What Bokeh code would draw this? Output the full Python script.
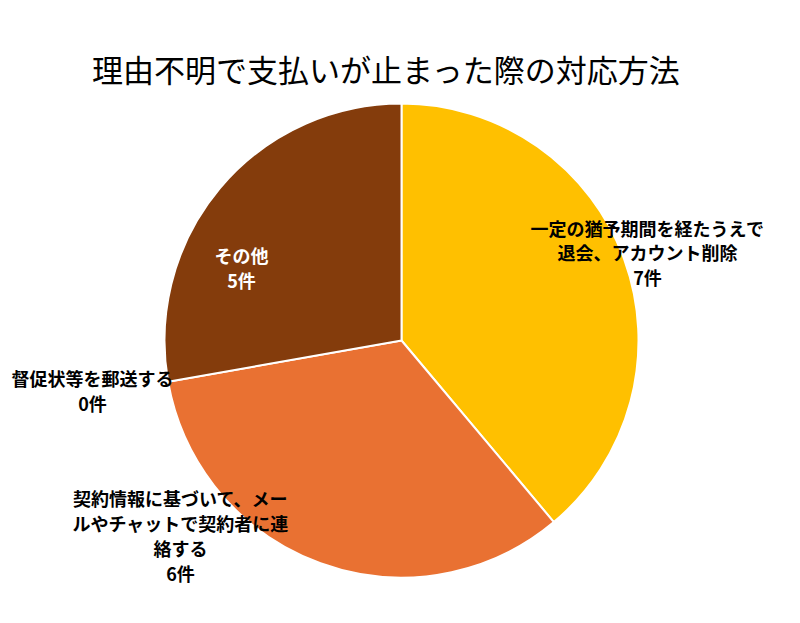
import math
from bokeh.plotting import figure
from bokeh.models import ColumnDataSource, Range1d
from bokeh.core.properties import value
from bokeh.embed import file_html
from bokeh.resources import INLINE

# Responses per handling method (clockwise from 12 o'clock)
categories = [
    "一定の猶予期間を経たうえで\n退会、アカウント削除",
    "契約情報に基づいて、メー\nルやチャットで契約者に連\n絡する",
    "督促状等を郵送する",
    "その他",
]
counts = [7, 6, 0, 5]
colors = ["#FFC000", "#E97132", "#A5A5A5", "#843C0C"]
label_colors = ["#000000", "#000000", "#000000", "#FFFFFF"]

title_text = "理由不明で支払いが止まった際の対応方法"

W, H = 800, 623
CX, CY, R = 401, H - 340, 237

# label anchors relative to the pie centre (layout only)
label_offsets = [(246, 88), (-221, -195), (-309, -50), (-160, 73)]

total = sum(counts)
starts, ends = [], []
acc = 0.0
for c in counts:
    a0 = math.pi / 2 - 2 * math.pi * (acc + c) / total
    a1 = math.pi / 2 - 2 * math.pi * acc / total
    starts.append(a0)
    ends.append(a1)
    acc += c

keep = [i for i, c in enumerate(counts) if c > 0]
wedges = ColumnDataSource(dict(
    x=[CX] * len(keep),
    y=[CY] * len(keep),
    start=[starts[i] for i in keep],
    end=[ends[i] for i in keep],
    color=[colors[i] for i in keep],
))

labels = ColumnDataSource(dict(
    x=[CX + dx for dx, dy in label_offsets],
    y=[CY + dy for dx, dy in label_offsets],
    text=[f"{n}\n{c}件" for n, c in zip(categories, counts)],
    color=label_colors,
))

p = figure(width=W, height=H, output_backend="svg", toolbar_location=None,
           x_range=Range1d(0, W), y_range=Range1d(0, H),
           min_border=0, outline_line_color=None)
p.axis.visible = False
p.grid.visible = False
p.background_fill_color = "white"
p.border_fill_color = "white"

p.wedge(x="x", y="y", radius=R, start_angle="start", end_angle="end",
        direction="anticlock", fill_color="color", line_color="white",
        line_width=2, source=wedges)

p.text(x="x", y="y", text="text", text_color="color", source=labels,
       text_align="center", text_baseline="middle",
       text_font=value("Noto Sans CJK JP"), text_font_size="18px",
       text_font_style="bold", text_line_height=0.95)

p.text(x=[386], y=[H - 68], text=[title_text], text_align="center",
       text_baseline="middle", text_font=value("Noto Sans CJK JP"),
       text_font_size="31px", text_color="#000000")

open("out.html", "w").write(file_html(p, INLINE))
